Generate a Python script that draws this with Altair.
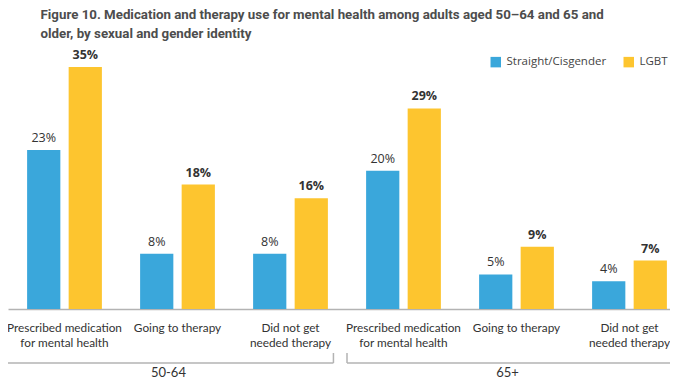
import altair as alt
import pandas as pd

# ---- data ----
categories = ["Prescribed medication|for mental health", "Going to therapy", "Did not get|needed therapy"]
age_groups = ["50-64", "65+"]
series = ["Straight/Cisgender", "LGBT"]
straight_values = [23, 8, 8, 20, 5, 4]
lgbt_values = [35, 18, 16, 29, 9, 7]

title_lines = [
    "Figure 10. Medication and therapy use for mental health among adults aged 50\u201364 and 65 and",
    "older, by sexual and gender identity",
]

BLUE = "#3aa7db"
YELLOW = "#fdc52f"
TEXT = "#333333"

keys = [f"{a}:{c}" for a in age_groups for c in categories]
rows = []
for i, k in enumerate(keys):
    rows.append({"key": k, "series": series[0], "value": straight_values[i], "label": f"{straight_values[i]}%"})
    rows.append({"key": k, "series": series[1], "value": lgbt_values[i], "label": f"{lgbt_values[i]}%"})
df = pd.DataFrame(rows)

groups = pd.DataFrame({
    "group": age_groups,
    "start": [keys[0], keys[3]],
    "end": [keys[2], keys[5]],
    "mid": [keys[1], keys[4]],
})

x_scale = alt.Scale(domain=keys, range=[0, 678], paddingInner=0, paddingOuter=0)
x_enc = alt.X(
    "key:N",
    sort=keys,
    scale=x_scale,
    axis=alt.Axis(
        title=None,
        labelExpr="split(split(datum.label, ':')[1], '|')",
        labelAngle=0,
        ticks=False,
        domainColor="#b3b3b3",
        domainWidth=1.5,
        labelFont="Lato",
        labelFontSize=11.8,
        labelColor=TEXT,
        labelPadding=13,
        labelLineHeight=15,
        labelOverlap=False,
        labelLimit=300,
    ),
)
xoff = alt.XOffset("series:N", sort=series, scale=alt.Scale(domain=series, paddingInner=0.2, paddingOuter=0.46))
y_enc = alt.Y("value:Q", scale=alt.Scale(domain=[0, 35], nice=False), axis=None)

base = alt.Chart(df)

bars = base.mark_bar().encode(
    x=x_enc,
    xOffset=xoff,
    y=y_enc,
    color=alt.Color(
        "series:N",
        sort=series,
        scale=alt.Scale(domain=series, range=[BLUE, YELLOW]),
        legend=alt.Legend(
            title=None,
            orient="none",
            direction="horizontal",
            legendX=482,
            legendY=-11,
            symbolType="square",
            symbolSize=110,
            symbolStrokeWidth=0,
            labelFont="Open Sans",
            labelFontSize=11.5,
            labelColor="#444444",
            columnPadding=16,
            labelOffset=5,
        ),
    ),
)

lab_blue = base.transform_filter(alt.datum.series == series[0]).mark_text(
    baseline="bottom", dy=-5, font="Open Sans", fontSize=12.5, color=TEXT
).encode(x=x_enc, xOffset=xoff, y=y_enc, text="label:N")

lab_yellow = base.transform_filter(alt.datum.series == series[1]).mark_text(
    baseline="bottom", dy=-5, font="Open Sans", fontSize=12.5, fontWeight="bold", color=TEXT
).encode(x=x_enc, xOffset=xoff, y=y_enc, text="label:N")

gbase = alt.Chart(groups)
BR_COLOR = "#b3b3b3"
hline = gbase.mark_rule(color=BR_COLOR, strokeWidth=1.5).encode(
    x=alt.X("start:N", scale=x_scale, bandPosition=0),
    x2=alt.X2("end:N", bandPosition=0.88),
    y=alt.value(296),
)
rtick = gbase.mark_rule(color=BR_COLOR, strokeWidth=1.5).encode(
    x=alt.X("end:N", scale=x_scale, bandPosition=0.88),
    y=alt.value(286),
    y2=alt.value(296),
)
ltick = gbase.transform_filter(alt.datum.group != age_groups[0]).mark_rule(color=BR_COLOR, strokeWidth=1.5).encode(
    x=alt.X("start:N", scale=x_scale, bandPosition=0),
    y=alt.value(286),
    y2=alt.value(296),
)
glabel = gbase.mark_text(font="Lato", fontSize=13, color=TEXT, baseline="middle").encode(
    x=alt.X("mid:N", scale=x_scale, bandPosition=0.42),
    y=alt.value(306),
    text="group:N",
)

chart = alt.layer(bars, lab_blue, lab_yellow, hline, rtick, ltick, glabel).properties(
    width=662,
    height=242,
    autosize="none",
    padding={"left": 0, "top": 59, "right": 0, "bottom": 72},
    title=alt.TitleParams(
        text=title_lines,
        anchor="start",
        dx=34,
        font="Roboto",
        fontSize=13.3,
        fontWeight="bold",
        color="#4d4d4d",
        lineHeight=19,
        offset=9,
    ),
).configure_view(stroke=None)

chart.save("out.html", embed_options={"renderer": "svg", "actions": False})
